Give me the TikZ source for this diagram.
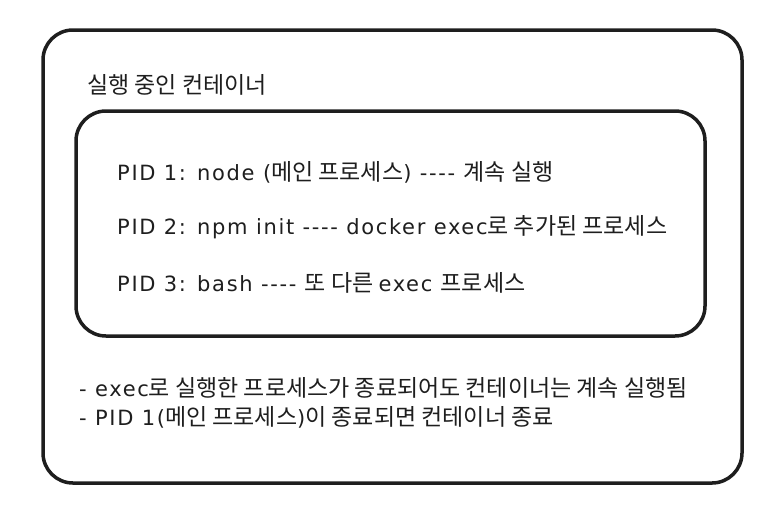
\documentclass[tikz,border=0pt]{standalone}
\usepackage{fontspec}
\setmainfont{Noto Sans CJK KR}[Ligatures=ResetAll]
\newfontfamily\latfont{DejaVu Sans}[Ligatures=ResetAll, LetterSpace=8]
\newcommand\la[1]{{\latfont\fontsize{21}{25}\selectfont #1}}
\definecolor{ink}{HTML}{1E1E1E}
\begin{document}
\begin{tikzpicture}[x=1pt,y=-1pt,
  box/.style={draw=ink, line width=3.5pt, rounded corners=30pt, inner sep=0pt},
  lbl/.style={anchor=west, inner sep=0pt, text=ink, font=\fontsize{23}{26}\selectfont}]
\useasboundingbox (0,0) rectangle (778,512);
\node[box, minimum width=699pt, minimum height=453pt] (outer) at (392.5,256.5) {};
\node[box, minimum width=629pt, minimum height=225pt] (inner) at (390.5,223.5) {};
\node[lbl] (title) at (87,85) {실행 중인 컨테이너};
\node[lbl] (p1) at (117,172) {\la{PID 1: node (}메인 프로세스\la{) ---- }계속 실행};
\node[lbl] (p2) at (117,227) {\la{PID 2: npm init ---- docker exec}로 추가된 프로세스};
\node[lbl] (p3) at (117,283) {\la{PID 3: bash ---- }또 다른 \la{exec }프로세스};
\node[lbl] (n1) at (79,388) {\la{- exec}로 실행한 프로세스가 종료되어도 컨테이너는 계속 실행됨};
\node[lbl] (n2) at (79,417) {\la{- PID 1(}메인 프로세스\la{)}이 종료되면 컨테이너 종료};
\end{tikzpicture}
\end{document}
